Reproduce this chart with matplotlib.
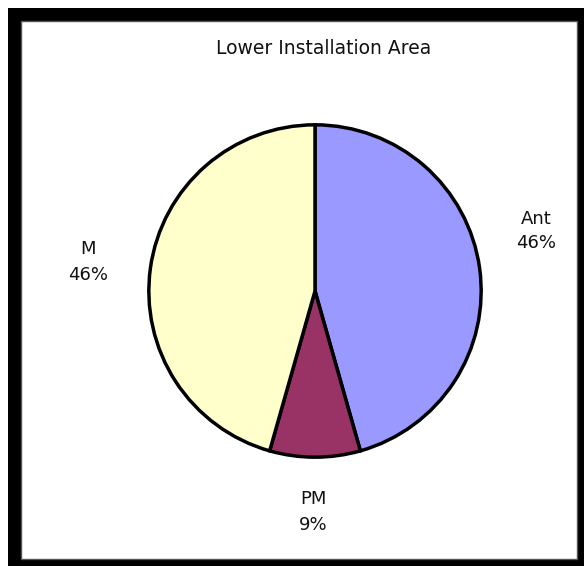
import matplotlib
matplotlib.use("Agg")
import matplotlib.pyplot as plt
from matplotlib.patches import Rectangle

title = "Lower Installation Area"
categories = ["Ant", "PM", "M"]
values = [45.6, 8.8, 45.6]
colors = ["#9999FF", "#993366", "#FFFFCC"]

plt.rcParams['font.family'] = ['DejaVu Sans']

W, H = 584, 566
fig = plt.figure(figsize=(W / 100, H / 100), dpi=100)

def px(x0, y0, x1, y1):
    # pixel box (top-left origin) -> figure fraction rect
    return (x0 / W, 1 - y1 / H, (x1 - x0) / W, (y1 - y0) / H)

x, y, w, h = px(8, 8, 584, 566)
fig.patches.append(Rectangle((x, y), w, h, transform=fig.transFigure,
                             facecolor="black", edgecolor="none", zorder=0))
x, y, w, h = px(21, 21, 577, 559)
fig.patches.append(Rectangle((x, y), w, h, transform=fig.transFigure,
                             facecolor="white", edgecolor="#555555", lw=1, zorder=1))

fig.text(324 / W, 1 - 48 / H, title, ha="center", va="center", fontsize=13.5,
         color="#111111", zorder=3)

cx, cy, r = 315, 291, 167
ax = fig.add_axes(px(cx - r, cy - r, cx + r, cy + r))
ax.set_zorder(2)
ax.patch.set_visible(False)
wedges, _ = ax.pie(values, colors=colors, startangle=90, counterclock=False,
                   radius=0.995,
                   wedgeprops=dict(edgecolor="black", linewidth=2.5))
ax.set_xlim(-1, 1)
ax.set_ylim(-1, 1)
ax.axis("off")

total = sum(values)
label_pos = [(536, 231), (313, 512), (88, 262)]
for cat, v, (lx, ly) in zip(categories, values, label_pos):
    fig.text(lx / W, 1 - ly / H, f"{cat}\n{100 * v / total:.0f}%",
             ha="center", va="center", fontsize=13, linespacing=1.5,
             color="#111111", zorder=3)

fig.savefig("out.png", dpi=100)
